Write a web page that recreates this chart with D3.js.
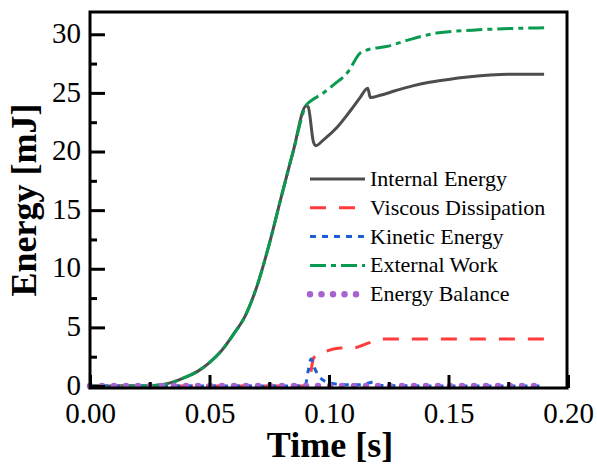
<!DOCTYPE html>
<html>
<head>
<meta charset="utf-8">
<script src="https://cdn.jsdelivr.net/npm/d3@7"></script>
<style>
body { margin: 0; background: #fff; }
text { font-family: "Liberation Serif", "Times New Roman", serif; fill: #000; }
</style>
</head>
<body>
<div id="vis"></div>
<script>
// series (time in s, energy in mJ)
var internalT = [0, 0.01, 0.02, 0.025, 0.03, 0.035, 0.04, 0.045, 0.05, 0.055, 0.06, 0.065, 0.07, 0.075, 0.08, 0.085, 0.0905, 0.0913, 0.0935, 0.0945, 0.0977, 0.1035, 0.109, 0.113, 0.1162, 0.1173, 0.1215, 0.128, 0.135, 0.142, 0.150, 0.158, 0.166, 0.175, 0.183, 0.19];
var internalV = [0, 0, 0, 0.02, 0.1, 0.35, 0.75, 1.25, 2.0, 3.0, 4.4, 6.0, 8.6, 12.1, 16.1, 20.0, 23.9, 23.8, 20.8, 20.5, 21.0, 22.1, 23.5, 24.6, 25.4, 24.6, 24.8, 25.2, 25.6, 25.9, 26.15, 26.35, 26.5, 26.6, 26.6, 26.6];

var viscousT = [0, 0.05, 0.0905, 0.0915, 0.0936, 0.0993, 0.105, 0.110, 0.117, 0.1215, 0.15, 0.19];
var viscousV = [0, 0, 0, 0.2, 2.4, 3.0, 3.25, 3.25, 3.7, 4.0, 4.0, 4.0];

var kineticT = [0, 0.05, 0.09, 0.0912, 0.0925, 0.094, 0.096, 0.099, 0.104, 0.112, 0.1175, 0.1185, 0.121, 0.15, 0.19];
var kineticV = [0, 0, 0, 1.2, 2.3, 1.5, 0.8, 0.35, 0.15, 0.1, 0.3, 0.35, 0.05, 0, 0];

var externalT = [0, 0.01, 0.02, 0.025, 0.03, 0.035, 0.04, 0.045, 0.05, 0.055, 0.06, 0.065, 0.07, 0.075, 0.08, 0.085, 0.0905, 0.0923, 0.097, 0.102, 0.108, 0.113, 0.1165, 0.124, 0.133, 0.145, 0.160, 0.177, 0.19];
var externalV = [0, 0, 0, 0.02, 0.1, 0.35, 0.75, 1.25, 2.0, 3.0, 4.4, 6.0, 8.6, 12.1, 16.1, 20.0, 23.95, 24.3, 24.9, 25.7, 26.8, 28.4, 28.7, 28.95, 29.5, 30.1, 30.35, 30.5, 30.55];

var balanceT = [0, 0.05, 0.1, 0.15, 0.19];
var balanceV = [0, 0, 0, 0, 0];

var xTicks = [0, 0.05, 0.10, 0.15, 0.20];
var yTicks = [0, 5, 10, 15, 20, 25, 30];
var seriesNames = ["Internal Energy", "Viscous Dissipation", "Kinetic Energy", "External Work", "Energy Balance"];

var w = 597;
var h = 465;
var serif = "Liberation Serif, Times New Roman, serif";

var styles = [
	{ color: "#4d4d4d", dash: null, cap: "butt", width: 3 },
	{ color: "#ff3b3b", dash: "16,13", cap: "butt", width: 3 },
	{ color: "#1a5fd6", dash: "6,6", cap: "butt", width: 3 },
	{ color: "#0a9a50", dash: "16,5,5,5", cap: "butt", width: 3 },
	{ color: "#a862d2", dash: "0,12", cap: "round", width: 6.5 }
];

var zip = function(ts, vs) {
	return ts.map(function(t, i) { return [t, vs[i]]; });
};
var series = [
	zip(internalT, internalV),
	zip(viscousT, viscousV),
	zip(kineticT, kineticV),
	zip(externalT, externalV),
	zip(balanceT, balanceV)
];

var svg = d3.select("#vis")
	.append("svg")
	.attr("width", w)
	.attr("height", h);

var x = d3.scaleLinear().domain([0, 0.2]).range([90, 568]);
var y = d3.scaleLinear().domain([-0.17, 31.9]).range([388, 12]);

var line = d3.line()
	.x(function(d) { return x(d[0]); })
	.y(function(d) { return y(d[1]); })
	.curve(d3.curveMonotoneX);

svg.selectAll("path.series")
	.data(series)
	.enter()
	.append("path")
	.attr("class", "series")
	.attr("d", line)
	.attr("fill", "none")
	.attr("stroke", function(d, i) { return styles[i].color; })
	.attr("stroke-width", function(d, i) { return styles[i].width; })
	.attr("stroke-dasharray", function(d, i) { return styles[i].dash; })
	.attr("stroke-linecap", function(d, i) { return styles[i].cap; })
	.attr("stroke-linejoin", "round");

// axes: inward ticks, minor ticks without labels
var xAxis = svg.append("g")
	.attr("transform", "translate(0,388)")
	.call(d3.axisBottom(x).tickValues(xTicks).tickFormat(d3.format(".2f")).tickSizeInner(-13).tickSizeOuter(0).tickPadding(14));
var xMinor = svg.append("g")
	.attr("transform", "translate(0,388)")
	.call(d3.axisBottom(x).tickValues([0.025, 0.075, 0.125, 0.175]).tickFormat("").tickSizeInner(-6).tickSizeOuter(0));
var yAxis = svg.append("g")
	.attr("transform", "translate(90,0)")
	.call(d3.axisLeft(y).tickValues(yTicks).tickSizeInner(-15).tickSizeOuter(0).tickPadding(9));
var yMinor = svg.append("g")
	.attr("transform", "translate(90,0)")
	.call(d3.axisLeft(y).tickValues([2.5, 7.5, 12.5, 17.5, 22.5, 27.5]).tickFormat("").tickSizeInner(-7).tickSizeOuter(0));

[xAxis, xMinor, yAxis, yMinor].forEach(function(g) {
	g.attr("font-family", serif).attr("font-size", 29);
	g.select(".domain").remove();
	g.selectAll(".tick line").attr("stroke", "#000").attr("stroke-width", 3);
	g.selectAll(".tick text").attr("fill", "#000");
});
yAxis.selectAll(".tick text").attr("dy", "0.28em");

// frame
svg.append("rect")
	.attr("x", 90).attr("y", 12)
	.attr("width", 477).attr("height", 376)
	.attr("fill", "none")
	.attr("stroke", "#000")
	.attr("stroke-width", 3);

// axis titles
svg.append("text")
	.attr("x", 330).attr("y", 457)
	.attr("text-anchor", "middle")
	.style("font-size", "36px").style("font-weight", "bold")
	.text("Time [s]");
svg.append("text")
	.attr("transform", "translate(36,200) rotate(-90)")
	.attr("text-anchor", "middle")
	.style("font-size", "36px").style("font-weight", "bold")
	.text("Energy [mJ]");

// legend
var legend = svg.selectAll("g.legend")
	.data(seriesNames)
	.enter()
	.append("g")
	.attr("class", "legend")
	.attr("transform", function(d, i) { return "translate(310," + (179 + i * 28.8) + ")"; });
legend.append("line")
	.attr("x1", 0).attr("x2", 55)
	.attr("stroke", function(d, i) { return styles[i].color; })
	.attr("stroke-width", function(d, i) { return styles[i].width; })
	.attr("stroke-dasharray", function(d, i) { return i == 4 ? "0,11.5" : styles[i].dash; })
	.attr("stroke-linecap", function(d, i) { return styles[i].cap; });
legend.append("text")
	.attr("x", 60).attr("y", 7)
	.style("font-size", "22px")
	.text(function(d) { return d; });
</script>
</body>
</html>
